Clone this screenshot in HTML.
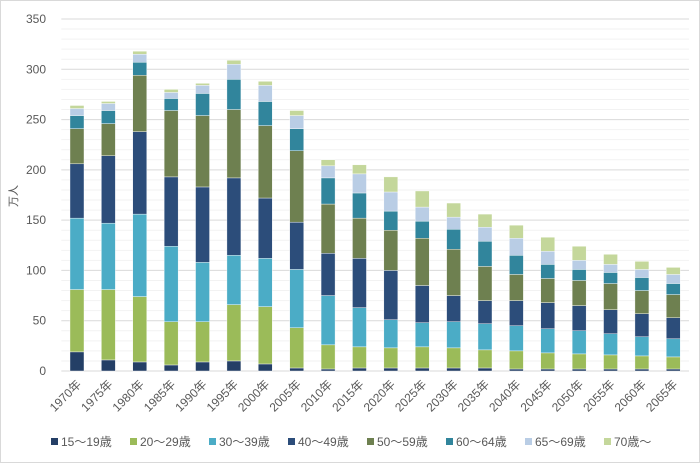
<!DOCTYPE html>
<html><head><meta charset="utf-8"><style>
body{margin:0;background:#fff;font-family:"Liberation Sans","Noto Sans CJK JP",sans-serif;}
#wrap{position:relative;width:700px;height:463px;overflow:hidden;border:1px solid #d9d9d9;box-sizing:border-box;}
svg text{font-family:"Liberation Sans","Noto Sans CJK JP",sans-serif;fill:#595959;}
</style></head><body>
<div id="wrap">
<svg id="chart" width="700" height="463"></svg>
</div>
<script>
const categories=["1970年","1975年","1980年","1985年","1990年","1995年","2000年","2005年","2010年","2015年","2020年","2025年","2030年","2035年","2040年","2045年","2050年","2055年","2060年","2065年"];
const seriesNames=["15～19歳","20～29歳","30～39歳","40～49歳","50～59歳","60～64歳","65～69歳","70歳～"];
const s15_19=[19,11,9,6,9,10,7,3,2,3,3,3,3,3,2,2,2,2,2,2];
const s20_29=[62,70,65,43,40,56,57,40,24,21,20,21,20,18,18,16,15,14,13,12];
const s30_39=[71,66,82,75,59,49,48,58,49,39,28,24,26,26,25,24,23,21,19,18];
const s40_49=[54,67,82,69,75,77,60,47,42,49,49,37,26,23,25,26,25,24,23,21];
const s50_59=[35,32,56,66,71,68,72,71,49,40,40,47,46,34,26,24,25,26,23,23];
const s60_64=[13,13,13,12,22,30,24,22,26,25,19,17,20,25,19,14,11,11,13,11];
const s65_69=[7,7,8,6,8,15,16,13,12,19,19,14,12,14,17,13,9,8,8,9];
const s70=[3,2,3,3,2,4,4,5,6,9,15,16,14,13,13,14,14,10,8,7];
const yTicks=[0,50,100,150,200,250,300,350];
const series=[s15_19,s20_29,s30_39,s40_49,s50_59,s60_64,s65_69,s70];
const colors=["#243f66","#9bbb59","#4bacc6","#2c4d7a","#6e8050","#31859c","#b9cde5","#c4d79b"];
const svg=document.getElementById('chart');
const NS="http://www.w3.org/2000/svg";
const X0=60.3,X1=688,Y0=370,Y1=18,YMAX=350;
const step=(X1-X0)/categories.length;
function y(v){return Y0-(v/YMAX)*(Y0-Y1);}
function xc(i){return X0+step*(i+0.5);}
function mk(t,a){const e=document.createElementNS(NS,t);for(const k in a)e.setAttribute(k,a[k]);svg.appendChild(e);return e;}
for(let v=0;v<=YMAX;v+=10){
  const l=mk('line',{x1:X0,x2:X1,y1:y(v),y2:y(v),stroke:v%50===0?'#d9d9d9':'#f2f2f2','stroke-width':1});
  
  
}
yTicks.forEach(v=>{
  const t=mk('text',{x:45,y:y(v)+4,'text-anchor':'end','font-size':12});
  t.textContent=v;
  
  
});
const yt=mk('text',{x:16,y:195,'text-anchor':'middle','font-size':11,transform:'rotate(-90 16 195)'});
yt.textContent='万人';


const bw=14;
categories.forEach((c,i)=>{
  let cum=0;
  series.forEach((s,k)=>{
    const r=mk('rect',{x:xc(i)-bw/2,y:y(cum+s[i]),width:bw,height:y(cum)-y(cum+s[i]),fill:colors[k],stroke:'#fff','stroke-width':0.4});
    
    
    cum+=s[i];
  });
  const t=mk('text',{x:xc(i)+5,y:384,'text-anchor':'end','font-size':12,transform:'rotate(-45 '+(xc(i)+5)+' 384)'});
  t.textContent=c;
  
  
});
seriesNames.forEach((n,k)=>{
  const lx=50+k*79;
  const r=mk('rect',{x:lx,y:437,width:7,height:7,fill:colors[k]});
  
  
  const t=mk('text',{x:lx+10,y:445,'font-size':12});
  t.textContent=n;
  
  
});
</script>
</body></html>
